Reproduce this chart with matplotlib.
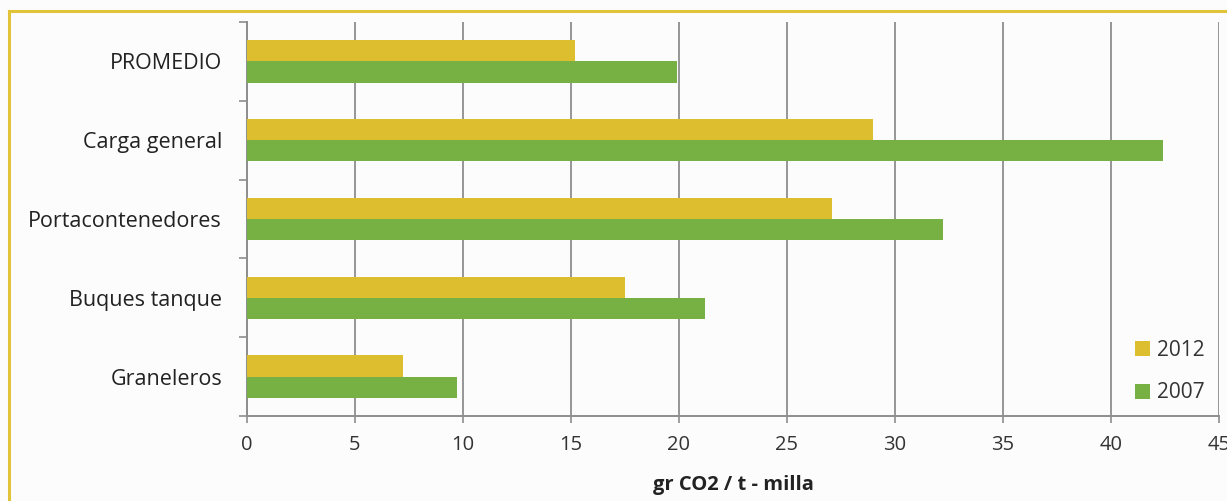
import matplotlib
matplotlib.use("Agg")
import matplotlib.pyplot as plt
import numpy as np
from matplotlib.lines import Line2D

categories = ["PROMEDIO", "Carga general", "Portacontenedores", "Buques tanque", "Graneleros"]
values_2012 = [15.2, 29.0, 27.1, 17.5, 7.2]
values_2007 = [19.9, 42.4, 32.2, 21.2, 9.7]
series_labels = ["2012", "2007"]
x_ticks = [0, 5, 10, 15, 20, 25, 30, 35, 40, 45]
x_label = "gr CO2 / t - milla"

c2012 = "#DDBE2E"
c2007 = "#78B143"
grid_c = "#8E8E8E"

plt.rcParams['font.family'] = ['Open Sans', 'DejaVu Sans']

fig = plt.figure(figsize=(12.27, 5.01), dpi=100)
fig.patch.set_facecolor("#FCFCFC")
ax = fig.add_axes([247/1227, (501-416)/501, (1219-247)/1227, (416-22)/501])
ax.set_facecolor("#FCFCFC")

y = np.arange(len(categories))
h = 0.27
ax.barh(y - h/2, values_2012, height=h, color=c2012, label=series_labels[0], zorder=3)
ax.barh(y + h/2, values_2007, height=h, color=c2007, label=series_labels[1], zorder=3)

ax.set_ylim(len(categories) - 0.5, -0.5)
ax.set_xlim(0, 45)
ax.set_xticks(x_ticks)
ax.set_xticklabels([str(t) for t in x_ticks], fontsize=14.5, color="#333333")
ax.set_yticks(y)
ax.set_yticklabels(categories, fontsize=15.5, color="#222222")
ax.set_yticks(np.arange(-0.5, len(categories)), minor=True)
ax.tick_params(axis='y', which='major', length=0, pad=18)
ax.tick_params(axis='y', which='minor', length=6, width=1.2, color=grid_c)
ax.tick_params(axis='x', which='major', length=5, width=1.2, color=grid_c, pad=9)

ax.grid(axis='x', color=grid_c, linewidth=1.3, zorder=0)
for s in ["top", "right"]:
    ax.spines[s].set_visible(False)
for s in ["left", "bottom"]:
    ax.spines[s].set_color(grid_c)
    ax.spines[s].set_linewidth(1.4)

ax.set_xlabel(x_label, fontsize=14.5, fontweight='bold', color="#222222")
ax.xaxis.set_label_coords((733 - 247) / (1219 - 247), -(485 - 416) / (416 - 22), transform=ax.transAxes)
ax.xaxis.label.set_va('center')

leg = ax.legend(loc='lower right', bbox_to_anchor=(0.998, 0.0), frameon=False,
                fontsize=15, handlelength=0.7, handleheight=0.7, handletextpad=0.35,
                labelspacing=1.05, borderaxespad=0.2)
for t in leg.get_texts():
    t.set_color("#333333")

# outer gold frame (top and left only visible)
fig.add_artist(Line2D([9/1227, 1.0], [1 - 11/501, 1 - 11/501], color="#E2C43A", linewidth=2.2,
                      transform=fig.transFigure))
fig.add_artist(Line2D([9/1227, 9/1227], [0, 1 - 11/501], color="#E2C43A", linewidth=2.2,
                      transform=fig.transFigure))

fig.savefig("out.png", dpi=100, facecolor=fig.get_facecolor())
